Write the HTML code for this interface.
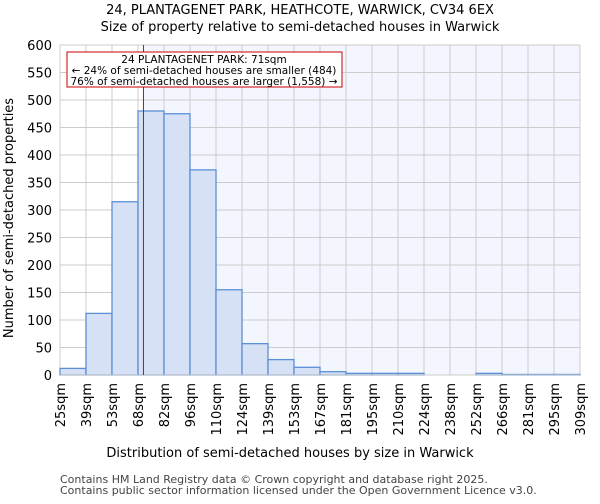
<!DOCTYPE html>
<html><head><meta charset="utf-8"><style>
body{margin:0;background:#fff;font-family:"DejaVu Sans","Liberation Sans",sans-serif;}
</style></head><body>
<svg id="chart" width="600" height="500" xmlns="http://www.w3.org/2000/svg" font-family="DejaVu Sans, Liberation Sans, sans-serif">
<text x="300" y="14" text-anchor="middle" font-size="13">24, PLANTAGENET PARK, HEATHCOTE, WARWICK, CV34 6EX</text>
<text x="300" y="31" text-anchor="middle" font-size="13">Size of property relative to semi-detached houses in Warwick</text>
<g id="plot"></g>
<text x="290" y="457" text-anchor="middle" font-size="13">Distribution of semi-detached houses by size in Warwick</text>
<text transform="translate(13,218) rotate(-90)" text-anchor="middle" font-size="13">Number of semi-detached properties</text>
<text x="60" y="483" font-size="11" fill="#444">Contains HM Land Registry data © Crown copyright and database right 2025.</text>
<text x="60" y="494" font-size="11" fill="#444">Contains public sector information licensed under the Open Government Licence v3.0.</text>
</svg>
<script>
const binLabels=["25sqm","39sqm","53sqm","68sqm","82sqm","96sqm","110sqm","124sqm","139sqm","153sqm","167sqm","181sqm","195sqm","210sqm","224sqm","238sqm","252sqm","266sqm","281sqm","295sqm","309sqm"];
const counts=[12,112,315,480,475,373,155,57,28,14,6,3,3,3,0,0,3,1,1,1];
const yTicks=[0,50,100,150,200,250,300,350,400,450,500,550,600];
const propertyIndex=3.21;
const NS="http://www.w3.org/2000/svg";
const L=60,R=580,T=45,B=375,yMax=600;
const n=counts.length,bw=(R-L)/n;
const xs=i=>L+i*bw, ys=v=>B-v/yMax*(B-T);
const g=document.getElementById('plot');
function mk(t,a){const e=document.createElementNS(NS,t);for(const k in a)e.setAttribute(k,a[k]);g.appendChild(e);return e;}
const px=xs(propertyIndex);
const bgw=mk('rect',{x:L,y:T,width:R-L,height:B-T,fill:'#fff'});


const bgb=mk('rect',{x:px,y:T,width:R-px,height:B-T,fill:'#f3f6fe'});


yTicks.forEach(v=>{const l=mk('line',{x1:L,x2:R,y1:ys(v),y2:ys(v),stroke:'#ccc'});


const t=mk('text',{x:L-8,y:ys(v)+5,'text-anchor':'end','font-size':13});t.textContent=v;

});
binLabels.forEach((s,i)=>{const l=mk('line',{x1:xs(i),x2:xs(i),y1:T,y2:B,stroke:'#ccc'});


const t=mk('text',{x:0,y:0,'text-anchor':'end','font-size':13,transform:`translate(${xs(i)+5},${B+8}) rotate(-90)`});t.textContent=s;

});
counts.forEach((v,i)=>{const r=mk('rect',{x:xs(i),y:ys(v),width:bw,height:B-ys(v),fill:'#d6e1f5',stroke:'#5b8fd6','stroke-width':1.3});

});
const ax=mk('line',{x1:L,x2:R,y1:B,y2:B,stroke:'#ccc'});


const rl=mk('line',{x1:px,x2:px,y1:T,y2:B,stroke:'#e00000','stroke-width':1});


const box=mk('rect',{x:67,y:52,width:275,height:35,fill:'#fff',stroke:'#c00'});


["24 PLANTAGENET PARK: 71sqm","← 24% of semi-detached houses are smaller (484)","76% of semi-detached houses are larger (1,558) →"].forEach((s,i)=>{
const t=mk('text',{x:204,y:63+i*11,'text-anchor':'middle','font-size':10.5});t.textContent=s;

});
</script>
</body></html>
